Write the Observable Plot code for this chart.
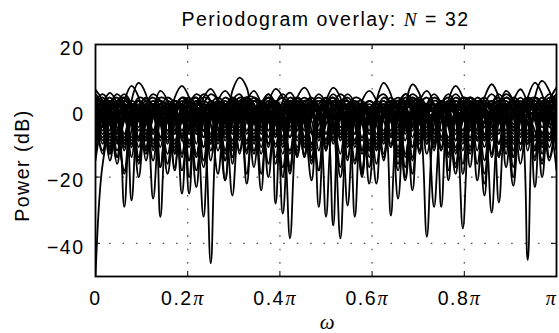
<!DOCTYPE html>
<html><head><meta charset="utf-8">
<script src="https://cdn.jsdelivr.net/npm/d3@7"></script>
<script src="https://cdn.jsdelivr.net/npm/@observablehq/plot@0.6"></script>
<style>
html,body{margin:0;padding:0;background:#fff;}
#wrap{width:559px;height:333px;position:relative;overflow:hidden;font-family:"Liberation Sans",Arial,sans-serif;}
#title{height:34px;line-height:38px;font-size:19.5px;letter-spacing:1.5px;text-align:center;padding-left:95px;padding-right:3px;box-sizing:border-box;white-space:nowrap;color:#000;}
#title i{font-family:"Liberation Serif",serif;font-style:italic;}
svg text{letter-spacing:1.5px;}
</style></head><body><div id="wrap"><div id="title">Periodogram overlay: <i>N</i> = 32</div></div>
<script>
// Frequency grid: bins of pi/64 over [0, pi]
const binsPerPi = 64;

// Periodogram realizations (dB), one value per bin (65 bins)
const A1 = [4,1,-9,0, 3,0,-14,-1, 2,-2,-8,1, 4,1,-6,2, 5,3,-7,6, 10,7,-4,1, 3,-1,-17,-3, 1,-2,-10,-1, 2,-4,-38.5,-5, 0,-2,-12,0, 3,0,-9,2, 4,1,-13,-2, 1,-1,-6,0, 2,-3,-19,-2, 2,0,-10,1, 4,2,-8,0, 3];
const A2 = [2,-1,-12,-2, 1,-3,-20,-1, 3,0,-7,4, 7.5,4,-5,0, 2,-2,-15,-3, 0,-2,-9,-1, 3,1,-6,2, 4,0,-16,-2, 1,-1,-8,0, 2,-1,-11,3, 5,2,-7,1, 3,-2,-38,-4, 2,0,-9,2, 4,1,-5,1, 3,-1,-14,-1, 2,-1,-10,2, 5];
const A3 = [6.3,3,-8,-1, 1,-2,-11,0, 3,0,-6,1, 2,-3,-18,-2, 3,1,-9,0, 2,-1,-7,2, 4,0,-31,-3, 2,0,-10,1, 3,2,-5,1, 3,1,-12,3, 8.4,5,-6,0, 2,-1,-9,-1, 1,-3,-17,-2, 3,1,-8,0, 1,-2,-12,0, 3,0,-7,1, 2];
const A4 = [0,-3,-15,-2, 2,0,-8,2, 4,1,-10,-1, 2,-1,-13,-1, 3,0,-6,3, 5,1,-12,-3, 0,-2,-9,-1, 3,0,-14,0, 4,1,-7,0, 2,-1,-10,0, 3,-2,-26.5,1, 8,5,-5,0, 3,0,-11,-2, 1,-1,-8,1, 3,-3,-22.6,-3, 1,-1,-9,0, 4];
const A5 = [3,0,-10,0, 3,1,-5,1, 2,-2,-16,-1, 4,3,-3,4, 6.6,3,-8,-2, 1,-2,-13,-1, 2,0,-8,0, 2,-1,-12,0, 3,1,-6,-1, 0,-2,-14,0, 4,2,-5,2, 3,0,-10,-1, 2,-1,-7,1, 3,-2,-25.6,-2, 1,0,-6,2, 4,2,-11,3, 7];
const A6 = [-2,-4,-13,-3, 0,-2,-9,-3, -1,-4,-19,-4, 0,-1,-7,-1, 1,-2,-12,-4, -1,-3,-8,-2, 1,-1,-11,-2, 0,-3,-15,-4, -2,-3,-8,-1, 2,0,-7,-1, 0,-3,-18,-5, -2,-4,-10,-2, 0,-2,-13,-3, -1,-2,-7,0, 2,0,-9,-2, 0,-3,-16,-3, 0];
const A7 = [1,-1,-7,1, 4,2,-9,-2, 0,-3,-13,-1, 3,1,-10,0, 2,-1,-21,-2, 3,2,-6,2, 5,2,-8,-1, 1,-1,-11,0, 3,1,-9,-2, 1,-2,-22,-3, 1,-1,-8,1, 4,2,-7,0, 2,-2,-12,0, 4,2,-9,-2, 0,-2,-6,1, 3,1,-13,-1, 1];
const A8 = [-1,-3,-11,-2, 2,0,-6,0, 1,-2,-9,-4, -3,-5,-14,-3, 0,-1,-5,1, 2,-1,-17,-3, -1,-3,-10,0, 3,1,-7,0, 0,-4,-20,-3, 1,0,-6,0, 1,-1,-13,-3, 0,-1,-8,1, 3,1,-6,-1, -1,-3,-15,-1, 2,1,-4,0, 0,-2,-20,-1, 2];
const B1 = [2, 4,1,-9,3, 7.5,4,-7,0, 2,-1,-12,-1, 2,0,-6,1, 3,0,-14,-2, 1,0,-5,2, 3,-3,-38.5,-4, 2,0,-9,1, 3,1,-11,-1, 1,-2,-16,-2, 2,1,-6,2, 4,1,-10,0, 3,0,-8,-1, 1,-1,-13,1, 4,2,-7,0, 2,-2,-15,-3];
const B2 = [-1, 1,-1,-8,0, 3,1,-12,-2, 2,0,-7,1, 3,-3,-32,-3, 1,-1,-9,2, 4,2,-6,0, 2,-1,-13,0, 3,1,-8,2, 4,1,-15,-2, 0,-2,-10,0, 3,1,-7,1, 2,-1,-12,0, 2,-3,-35.5,-4, 1,0,-8,2, 5,3,-6,4, 8.5,5,-5,2];
const B3 = [0, 2,0,-10,-1, 1,-1,-7,1, 3,1,-13,-2, 1,-1,-8,0, 2,-3,-25.6,-3, 1,-1,-9,0, 2,0,-6,2, 4,2,-8,3, 7,4,-6,-1, 1,-1,-12,-1, 2,0,-9,0, 2,-3,-29,-3, 2,1,-6,2, 3,-2,-30.7,-3, 2,0,-10,0, 3,1,-7,1];
const B4 = [-3, 0,-2,-12,-2, 2,0,-8,1, 3,1,-6,0, 2,-1,-11,-1, 1,-1,-7,0, 2,-2,-24,2, 6.6,4,-5,4, 7,3,-29,-2, 2,-2,-28.6,-3, 1,-1,-9,0, 2,0,-14,-1, 3,1,-6,1, 2,0,-10,-1, 1,-2,-7,1, 4,2,-12,-1, 1,-1,-9,0];
const B5 = [1, 3,1,-6,0, 2,-1,-15,0, 6,3,-9,-2, 0,-2,-11,0, 3,1,-7,1, 3,0,-19,-3, 0,-2,-8,0, 2,0,-12,0, 3,1,-6,0, 2,0,-11,-1, 1,-2,-20,-2, 1,0,-7,2, 4,1,-9,0, 2,0,-14,1, 6,3,-8,-1, 1,-1,-11,0];
const B6 = [-4, -2,-4,-14,-3, 0,-2,-9,-2, 0,-3,-17,-3, -1,-2,-6,-1, 1,-1,-10,-3, -1,-3,-13,-2, 1,-1,-8,-1, 0,-3,-18,-4, -1,-2,-7,0, 2,0,-10,-2, -1,-4,-21,-4, 0,-1,-8,-1, 1,-1,-12,-2, 0,-2,-9,-1, 1,-2,-16,-3, 0,-2,-8,-1];
const B7 = [3, 5,2,-7,0, 2,0,-11,-1, 1,-1,-6,2, 4,1,-15,-2, 0,-2,-9,1, 4,2,-6,1, 3,0,-17,-2, 1,-1,-7,2, 5,2,-10,-1, 2,0,-8,1, 4,1,-13,-2, 1,-1,-6,1, 3,1,-19,-2, 2,0,-7,2, 3,0,-10,0, 4,2,-14,-2];
const C1 = [-50,-16,-7,-9, -18,-6,0,-2, -10,-1,2,0, -8,0,3,1, -12,-2,1,-1, -9,1,4,2, -6,0,2,-1, -14,-1,2,0, -7,1,3,0, -11,-2,0,-2, -15,0,3,1, -8,0,2,-1, -12,-1,1,0, -6,2,4,1, -10,-1,1,-1, -9,0,2,0, -7];
const C2 = [-9,1,3,0, -29,3,8.4,5, -7,0,2,-1, -13,0,3,-3, -46,-3,2,0, -8,1,3,1, -10,-1,1,0, -6,2,4,1, -12,-2,0,-2, -9,0,3,1, -7,1,2,-1, -15,-1,2,0, -8,0,3,1, -11,-2,0,-1, -6,1,4,2, -10,0,2,-1, -12];
const C3 = [-6,1,3,0, -11,-1,1,-2, -26.5,-2,3,1, -8,0,2,0, -10,1,4,2, -7,0,1,-2, -16,-2,2,1, -6,1,3,0, -12,0,2,0, -9,-1,1,-1, -13,0,3,2, -5,2,4,1, -11,-1,0,-2, -9,1,3,0, -14,-1,2,-1, -45,4,9,6, -2];
const C4 = [-10,0,2,0, -7,1,3,1, -9,-1,1,-2, -25,-1,3,1, -8,1,3,0, -12,-1,1,-1, -6,2,4,1, -11,-2,1,-2, -32,-2,2,0, -7,1,3,1, -9,0,2,0, -14,-1,1,-1, -29,3,7.5,4, -6,0,2,-1, -10,-1,1,-1, -8,0,3,1, -9];
const C5 = [-13,-1,1,-1, -8,0,2,0, -6,1,4,2, -9,0,2,1, -7,3,6,3, -5,3,6,2, -10,-1,1,-2, -12,0,3,1, -7,0,2,-1, -32,-1,3,1, -8,0,2,0, -11,-1,1,0, -6,1,3,0, -13,-1,2,-1, -27.7,-1,3,2, -7,0,2,0, -11];
const C6 = [-8,2,5.4,2, -10,-1,1,-1, -7,0,2,0, -14,-1,1,-1, -9,0,2,1, -6,1,3,0, -11,-2,0,-2, -8,0,3,1, -10,0,2,0, -7,3,6,3, -9,0,1,-1, -6,3,6,2, -12,-1,1,-1, -8,0,2,0, -10,0,3,1, -7,0,2,-3, -18];
const C7 = [-15,-4,-1,-3, -12,-2,0,-2, -9,-2,-1,-3, -18,-4,0,-2, -10,-1,1,-1, -13,-3,-1,-3, -20,-3,0,-2, -9,-2,1,-1, -11,-3,-1,-4, -16,-2,1,-1, -10,-2,0,-3, -19,-3,-1,-2, -8,-1,1,-1, -12,-2,0,-2, -14,-3,-1,-3, -10,-1,1,-1, -12];
const C8 = [-4,2,4,1, -9,0,3,1, -12,-1,2,0, -7,2,4,1, -15,-1,2,0, -6,1,3,2, -8,2,5,2, -13,-1,1,-1, -9,1,3,1, -10,0,2,0, -6,2,4,2, -11,0,2,0, -8,2,5,2, -17,-1,2,0, -7,1,3,1, -12,1,4,2, -6];
const D1 = [1, -9,0,2,0, -27,0,4,1, -8,1,3,0, -11,-1,1,-1, -7,1,3,1, -10,0,2,-1, -14,-1,2,0, -8,1,3,0, -34.6,-1,2,0, -9,0,2,1, -7,1,3,0, -12,-1,1,-1, -8,1,4,2, -6,4,8,4, -9,0,2,0, -11,0,3,1];
const D2 = [-2, -12,-1,2,0, -8,0,3,1, -32,-2,2,0, -7,1,3,1, -10,-1,1,-1, -9,0,2,1, -6,3,5.5,2, -11,-1,1,-1, -8,0,2,0, -13,-1,2,0, -31.6,-1,3,1, -7,0,2,0, -10,-1,1,-1, -8,1,3,1, -6,3,6.5,2, -12,-1,1,-1];
const D3 = [0, -7,1,3,1, -10,-1,2,0, -8,0,3,0, -25,-1,2,0, -9,1,3,0, -12,-1,2,1, -28,0,3,1, -6,2,5,2, -10,-1,1,-1, -8,0,2,0, -11,0,3,1, -7,1,2,-1, -14,-1,2,0, -9,0,3,1, -7,1,2,0, -23,0,3,1];
const D4 = [2, -6,2,4,1, -11,0,2,0, -9,1,3,1, -15,-1,1,-1, -8,1,4,2, -7,0,2,-1, -16,-1,2,0, -9,0,3,1, -7,2,4,1, -12,-1,1,-1, -10,1,4,2, -6,2,5,2, -13,-1,1,-1, -9,0,2,0, -17,-1,2,0, -8,1,4,2];
const D5 = [-3, -13,-3,0,-2, -10,-2,1,-1, -17,-3,-1,-3, -9,-1,1,-1, -12,-3,0,-2, -19,-3,-1,-3, -10,-2,0,-2, -14,-2,1,-1, -9,-2,0,-2, -18,-3,-1,-3, -11,-2,0,-2, -13,-1,1,-1, -10,-3,-1,-3, -21,-3,0,-2, -11,-1,1,-1, -9,-2,0,-2];
const D6 = [3, -5,2,5,2, -9,1,4,1, -11,0,3,1, -7,2,5,3, -8,1,4,1, -13,0,3,0, -8,1,4,2, -10,0,3,1, -6,2,5,2, -12,0,3,1, -8,2,5,3, -9,1,4,2, -11,0,3,1, -7,2,5,2, -10,1,4,1, -8,2,5,3];
const D7 = [-1, -10,0,2,0, -14,-1,1,-1, -8,0,3,1, -20,-1,2,0, -9,0,2,-1, -22,-2,1,0, -7,1,3,1, -11,-1,1,-1, -9,1,3,0, -19,-1,2,0, -8,1,3,1, -12,0,2,0, -21,-1,1,-1, -9,1,3,1, -13,0,2,0, -8,1,3,1];
const E1 = [3,0,-11,2,5,2,-8,1,2,-17,0,3,1, -6,2,4,3,-1,-13,0,2,-2,-9,1,4,2, -5,0,-1,-14,1,3,0,-7,2,3,-1,-20,-1, 2,1,-8,1,5,3,-4,0,-10,-1,1,-2,-16, 0,3,2,-6,1,2,-12,-1,3,4,1,-9,2];
const E2 = [-4,-1,2,0,-9,1,3,-2,-15,-1,2,1,-6, 2,5,3,-8,-1,0,-12,0,3,2,-5,1,2, -1,-18,-2,1,0,-7,2,4,1,-9,0,2,-3, -22,-1,2,3,-4,1,3,0,-11,-1,1,-1,-8, 1,3,1,-13,-2,0,-5,2,4,2,-7,0,1];
const E3 = [1,3,1,-7,0,2,-1,-13,1,4,3,-3,0, -10,-1,1,-4,-19,-1,3,2,-6,0,1,-2,-11, 0,2,1,-8,2,4,2,-5,0,-14,-1,2,1, -7,1,3,-1,-17,0,2,0,-9,2,5,2,-6, -1,-12,0,2,-1,-8,1,3,0,-15,-1,2,0];
const E4 = [-6,-3,-12,-2,0,-3,-16,-4,-1,-2,-9,-1,1, -2,-14,-3,-1,-5,-21,-3,0,-1,-8,-2,-1,-4, -13,-2,0,-2,-10,-1,1,-3,-17,-4,-2,-3,-9, -1,0,-2,-12,-3,0,-1,-7,-2,-1,-5,-19,-3, -1,-3,-11,-1,1,-1,-8,-3,-2,-6,-15,-2,0];
const E5 = [5,2,-6,3,4,1,-9,2,5,3,-3,1,4, 2,-7,0,3,0,-12,1,4,3,-2,2,5,1, -8,1,3,-1,-10,2,4,2,-5,1,4,3,-4, 0,2,-1,-11,2,5,3,-6,0,3,1,-9,1, 4,2,-5,2,5,2,-7,0,3,1,-10,2,5];
const E6 = [-1,-8,1,3,2,-4,-15,-1,2,0,-6,1,2, -3,-23,-2,2,1,-7,0,3,1,-10,0,2,-1, -9,1,4,2,-6,-18,-1,1,0,-8,2,3,0, -12,-1,2,1,-5,0,-9,0,3,2,-4,-16,-1, 2,1,-7,1,3,-2,-20,-1,2,3,0,-8,-2];
const E7 = [0,2,-3,-14,-2,0,-1,-9,1,3,1,-7,0, 1,-5,-17,-1,2,2,-6,1,3,0,-11,-2,0, -4,-12,0,3,3,-2,-9,1,2,-1,-15,-1,1, 0,-7,0,2,-2,-24,-2,1,0,-9,1,4,2, -5,0,1,-4,-13,-1,2,1,-6,0,2,-1,-11];
const E8 = [-3,1,2,-1,-10,0,4,3,-6,-1,0,-13,-1, 3,4,0,-9,-2,-1,-16,0,2,1,-5,0,-8, 1,3,2,-4,-21,-1,2,1,-7,2,3,0,-12, -2,0,-3,-14,0,2,0,-8,-1,-2,-18,-1,2, 3,0,-9,2,4,1,-6,-1,-3,-12,1,3,2];
const E9 = [-8,-2,-1,-5,-19,-3,-1,-2,-11,-1,0,-2,-8, -15,-2,1,0,-6,-3,-14,-2,0,-1,-9,-1,-3, -20,-3,-1,-2,-10,0,1,-3,-13,-2,-1,-4,-17, -2,0,-1,-7,-1,-2,-12,-3,-1,-2,-9,0,1, -2,-16,-3,-1,-3,-10,-1,0,-4,-14,-2,-1,-3];
const E10 = [2,-2,-13,0,3,2,-3,-8,0,1,-1,-11,1, 3,1,-6,0,-2,-15,-1,3,4,1,-7,-1,0, -5,-19,-1,1,0,-6,1,3,2,-9,-2,1,1, -4,-14,-1,3,3,-1,-10,0,2,-2,-13,0,3, 2,-4,-22,-2,2,1,-5,1,3,0,-8,0,2];
const E11 = [-2,0,-4,-16,-1,2,1,-6,0,2,0,-10,-2, 0,-1,-8,2,4,2,-5,-1,-12,0,2,1,-7, 1,2,-3,-13,1,3,1,-6,0,1,-4,-19,-1, 1,0,-6,1,3,2,-8,-1,0,-2,-11,1,4, 3,-2,-9,0,1,-1,-14,0,3,2,-5,1,3];
const E12 = [4,3,-1,-9,1,2,-1,-12,-1,1,-2,-18,0, 2,1,-6,1,2,-3,-11,0,4,4,0,-8,0, 2,-1,-14,-1,1,-1,-9,2,5,3,-3,-1,-7, 0,2,-1,-16,-1,3,3,-2,-10,-1,1,-1,-7, 1,4,2,-5,-1,-3,-17,-1,2,1,-7,0,2];

// Axis ticks
const xTicks = [0, 0.2, 0.4, 0.6, 0.8, 1];
const xTickCoeffs = ["0", "0.2", "0.4", "0.6", "0.8", ""];
const xTickPi = ["", "π", "π", "π", "π", "π"];
const yTicks = [20, 0, -20, -40];
const yTickLabels = ["20", "0", "−20", "−40"];
const yLabel = "Power (dB)";
const xLabel = "ω";

const seriesList = [A1,A2,A3,A4,A5,A6,A7,A8,B1,B2,B3,B4,B5,B6,B7,C1,C2,C3,C4,C5,C6,C7,C8,D1,D2,D3,D4,D5,D6,D7,E1,E2,E3,E4,E5,E6,E7,E8,E9,E10,E11,E12];
const rows = [];
seriesList.forEach((vals, s) => vals.slice(0, binsPerPi + 1).forEach((v, i) => rows.push({run: s, w: i / binsPerPi, p: v})));

const W = 559, H = 299, mL = 95, mR = 3, mT = 10, mB = 57;
const innerW = W - mL - mR, innerH = H - mT - mB;
const tickLen = 5;
const fontMain = "Liberation Sans, Arial, sans-serif";
const fontGreek = "Liberation Serif, Times New Roman, serif";
const gridStyle = {stroke: "#555", strokeWidth: 1.2, strokeDasharray: "1.6 11.8"};

const chart = Plot.plot({
  width: W, height: H,
  marginLeft: mL, marginRight: mR, marginTop: mT, marginBottom: mB,
  x: {domain: [0, 1], axis: null},
  y: {domain: [-50, 20], axis: null},
  style: {fontFamily: fontMain, fontSize: "19.5px", color: "#000", background: "#fff", overflow: "visible"},
  marks: [
    Plot.ruleX(xTicks.slice(1, -1), {x: d => d, ...gridStyle, strokeDashoffset: -3.7}),
    Plot.ruleY(yTicks.slice(1), {y: d => d, ...gridStyle, strokeDashoffset: -0.7}),
    Plot.line(rows, {x: "w", y: "p", z: "run", stroke: "#000", strokeWidth: 1.8, curve: "catmull-rom", clip: true}),
    Plot.tickX(xTicks, {x: d => d, insetTop: innerH - tickLen, stroke: "#000"}),
    Plot.tickX(xTicks, {x: d => d, insetBottom: innerH - tickLen, stroke: "#000"}),
    Plot.tickY(yTicks, {y: d => d, insetRight: innerW - tickLen, stroke: "#000"}),
    Plot.tickY(yTicks, {y: d => d, insetLeft: innerW - tickLen, stroke: "#000"}),
    Plot.frame({stroke: "#000", strokeWidth: 1.8}),
    // y tick labels
    Plot.text(yTicks, {y: d => d, text: (d, i) => yTickLabels[i], frameAnchor: "left", textAnchor: "end", dx: -11, dy: 4, lineAnchor: "middle", fontSize: 19.5, fill: "#000"}),
    // x tick labels: coefficient + pi
    Plot.text(xTicks, {x: d => d, text: (d, i) => xTickCoeffs[i], filter: (d, i) => xTickPi[i] !== "" && xTickCoeffs[i] !== "", frameAnchor: "bottom", textAnchor: "end", dx: 5, dy: 28, lineAnchor: "bottom", fontSize: 19.5, fill: "#000"}),
    Plot.text(xTicks, {x: d => d, text: (d, i) => xTickPi[i], filter: (d, i) => xTickPi[i] !== "" && xTickCoeffs[i] !== "", frameAnchor: "bottom", textAnchor: "start", dx: 5.5, dy: 28, lineAnchor: "bottom", fontSize: 20, fontFamily: fontGreek, fontStyle: "italic", fill: "#000"}),
    Plot.text(xTicks, {x: d => d, text: (d, i) => xTickCoeffs[i], filter: (d, i) => xTickPi[i] === "", frameAnchor: "bottom", textAnchor: "middle", dy: 28, lineAnchor: "bottom", fontSize: 19.5, fill: "#000"}),
    Plot.text(xTicks, {x: d => d, text: (d, i) => xTickPi[i], filter: (d, i) => xTickCoeffs[i] === "", frameAnchor: "bottom", textAnchor: "middle", dx: -5, dy: 28, lineAnchor: "bottom", fontSize: 20, fontFamily: fontGreek, fontStyle: "italic", fill: "#000"}),
    // axis labels
    Plot.text([yLabel], {text: d => d, frameAnchor: "left", rotate: -90, dx: -66.5, dy: 5, lineAnchor: "bottom", textAnchor: "middle", fontSize: 19.5, fill: "#000"}),
    Plot.text([xLabel], {text: d => d, frameAnchor: "bottom", dx: 2, dy: 52, lineAnchor: "bottom", textAnchor: "middle", fontSize: 21, fontFamily: fontGreek, fontStyle: "italic", fill: "#000"})
  ]
});
document.getElementById("wrap").appendChild(chart);
</script>
</body></html>
